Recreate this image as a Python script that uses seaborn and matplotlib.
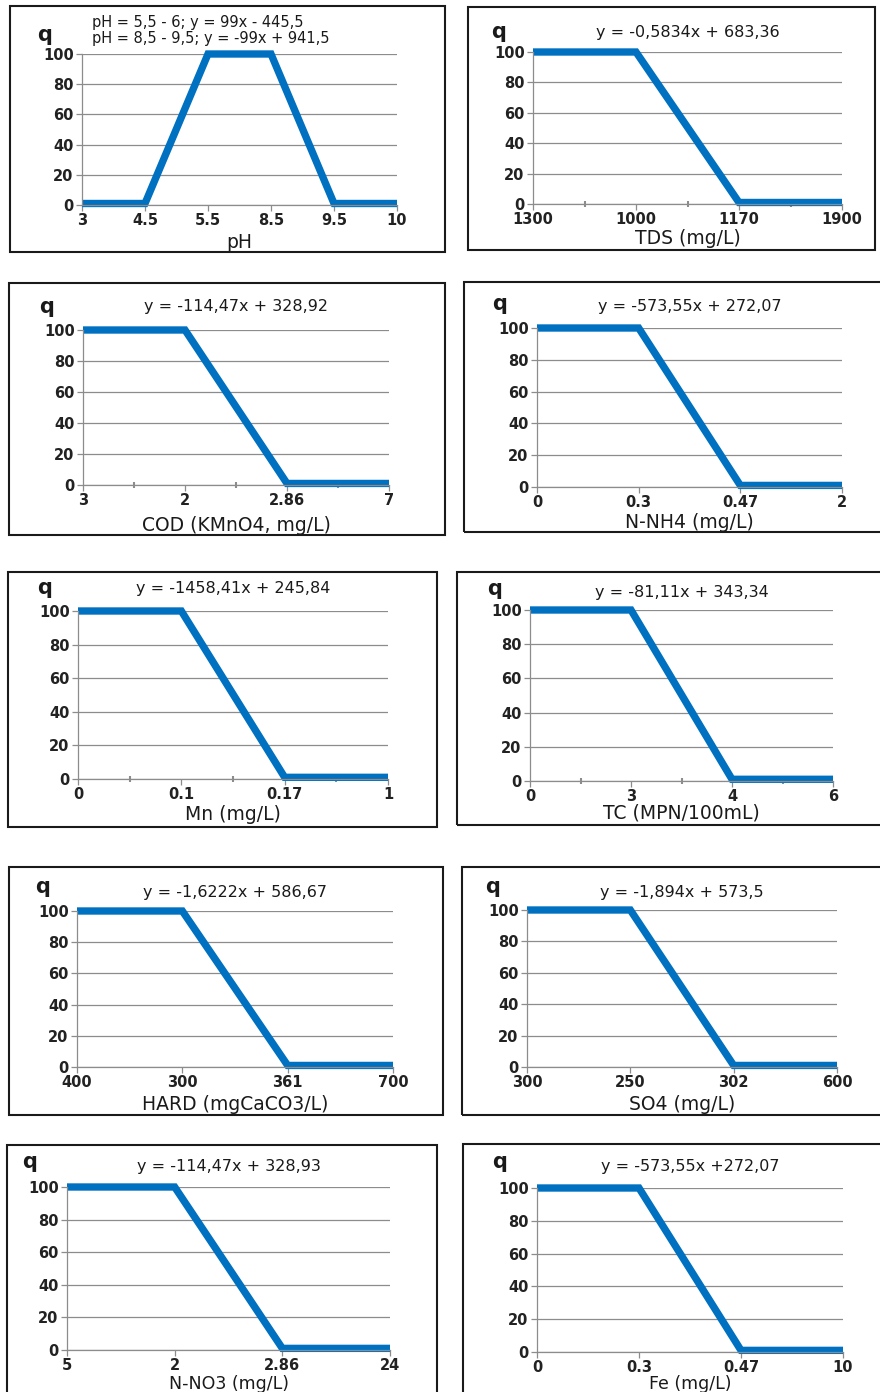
import numpy as np
import matplotlib
matplotlib.use("Agg")
import matplotlib.pyplot as plt
import seaborn as sns
from matplotlib.patches import Rectangle

# quality index q vs. parameter value, one panel per parameter
ph_x = ["3", "4.5", "5.5", "8.5", "9.5", "10"]
ph_q = [1, 1, 100, 100, 1, 1]
tds_x = ["1300", "1000", "1170", "1900"]
tds_q = [100, 100, 1, 1]
cod_x = ["3", "2", "2.86", "7"]
cod_q = [100, 100, 1, 1]
nh4_x = ["0", "0.3", "0.47", "2"]
nh4_q = [100, 100, 1, 1]
mn_x = ["0", "0.1", "0.17", "1"]
mn_q = [100, 100, 1, 1]
tc_x = ["0", "3", "4", "6"]
tc_q = [100, 100, 1, 1]
hard_x = ["400", "300", "361", "700"]
hard_q = [100, 100, 1, 1]
so4_x = ["300", "250", "302", "600"]
so4_q = [100, 100, 1, 1]
no3_x = ["5", "2", "2.86", "24"]
no3_q = [100, 100, 1, 1]
fe_x = ["0", "0.3", "0.47", "10"]
fe_q = [100, 100, 1, 1]

panels = [
    (ph_x, ph_q, "pH", ["pH = 5,5 - 6; y = 99x - 445,5", "pH = 8,5 - 9,5; y = -99x + 941,5"], False),
    (tds_x, tds_q, "TDS (mg/L)", ["y = -0,5834x + 683,36"], True),
    (cod_x, cod_q, "COD (KMnO4, mg/L)", ["y = -114,47x + 328,92"], True),
    (nh4_x, nh4_q, "N-NH4 (mg/L)", ["y = -573,55x + 272,07"], False),
    (mn_x, mn_q, "Mn (mg/L)", ["y = -1458,41x + 245,84"], True),
    (tc_x, tc_q, "TC (MPN/100mL)", ["y = -81,11x + 343,34"], True),
    (hard_x, hard_q, "HARD (mgCaCO3/L)", ["y = -1,6222x + 586,67"], False),
    (so4_x, so4_q, "SO4 (mg/L)", ["y = -1,894x + 573,5"], False),
    (no3_x, no3_q, "N-NO3 (mg/L)", ["y = -114,47x + 328,93"], False),
    (fe_x, fe_q, "Fe (mg/L)", ["y = -573,55x +272,07"], False),
]

# pixel layout: frame box, axes box (left, top, right, bottom), title y, q position,
# xlabel y, xlabel size
layout = [
    ((10, 6, 445, 252), (82, 54, 397, 205), 30, (45, 35), 243, 13.5),
    ((468, 7, 875, 250), (533, 52, 842, 204), 32, (499, 32), 239, 13.5),
    ((9, 283, 445, 535), (83, 330, 389, 485), 307, (47, 307), 525, 13.5),
    ((464, 282, 882, 532), (537, 328, 842, 487), 307, (500, 304), 522, 13.5),
    ((8, 572, 437, 827), (78, 611, 388, 779), 588, (45, 588), 815, 13.5),
    ((457, 572, 882, 825), (530, 610, 833, 781), 593, (495, 589), 813, 13.5),
    ((9, 867, 443, 1115), (77, 911, 393, 1067), 892, (43, 887), 1105, 13.5),
    ((462, 867, 882, 1115), (527, 910, 837, 1067), 892, (493, 887), 1104, 13.5),
    ((7, 1145, 437, 1400), (67, 1187, 390, 1350), 1166, (30, 1162), 1384, 12.5),
    ((463, 1144, 882, 1400), (537, 1188, 843, 1352), 1166, (500, 1162), 1384, 12.5),
]

BLUE = "#0070C0"
GRID = "#8c8c8c"
W, H = 880, 1392

sns.set_style("ticks")
plt.rcParams["font.family"] = ["DejaVu Sans"]

fig = plt.figure(figsize=(W / 100, H / 100), dpi=100)


def fx(x):
    return x / W


def fy(y):
    return 1 - y / H


for (xs, qs, xlabel, title, minor), (frame, box, ty, qpos, ly, lsize) in zip(panels, layout):
    x0, y0, x1, y1 = frame
    fig.add_artist(Rectangle((fx(x0), fy(y1)), (x1 - x0) / W, (y1 - y0) / H,
                             transform=fig.transFigure, fill=False,
                             edgecolor="#1a1a1a", linewidth=1.5))

    l, t, r, b = box
    ax = fig.add_axes([fx(l), fy(b), (r - l) / W, (b - t) / H])
    pos = np.arange(len(xs))
    sns.lineplot(x=pos, y=qs, ax=ax, color=BLUE, linewidth=5.3, clip_on=False,
                 solid_capstyle="butt", solid_joinstyle="miter")
    ax.set_xlim(0, len(xs) - 1)
    ax.set_ylim(0, 100)
    ax.set_yticks(range(0, 101, 20))
    ax.set_xticks(pos)
    ax.set_xticklabels(xs)
    if minor:
        ax.set_xticks(pos[:-1] + 0.5, minor=True)
    ax.yaxis.grid(True, color=GRID, linewidth=0.9)
    ax.set_axisbelow(True)
    sns.despine(ax=ax)
    for side in ("left", "bottom"):
        ax.spines[side].set_color(GRID)
        ax.spines[side].set_linewidth(0.9)
    ax.tick_params(axis="both", which="major", length=4, width=0.9, color=GRID,
                   labelsize=10.5, labelcolor="#222222", pad=2)
    ax.tick_params(axis="x", which="minor", direction="inout", length=4,
                   width=1.5, color=GRID)
    for lab in ax.get_xticklabels() + ax.get_yticklabels():
        lab.set_fontweight("bold")
    ax.set_xlabel("")
    ax.set_ylabel("")

    cx = (l + r) / 2
    if len(title) == 1:
        fig.text(fx(cx), fy(ty), title[0], ha="center", va="center",
                 fontsize=11.5, color="#1a1a1a")
    else:
        for k, line in enumerate(title):
            fig.text(fx(92), fy(ty - 8 + 16 * k), line, ha="left", va="center",
                     fontsize=10.5, color="#1a1a1a")
    fig.text(fx(qpos[0]), fy(qpos[1]), "q", ha="center", va="center",
             fontsize=15, fontweight="bold", color="#1a1a1a")
    fig.text(fx(cx), fy(ly), xlabel, ha="center", va="center", fontsize=lsize,
             color="#1a1a1a")

fig.savefig("out.png", dpi=100, facecolor="white")
